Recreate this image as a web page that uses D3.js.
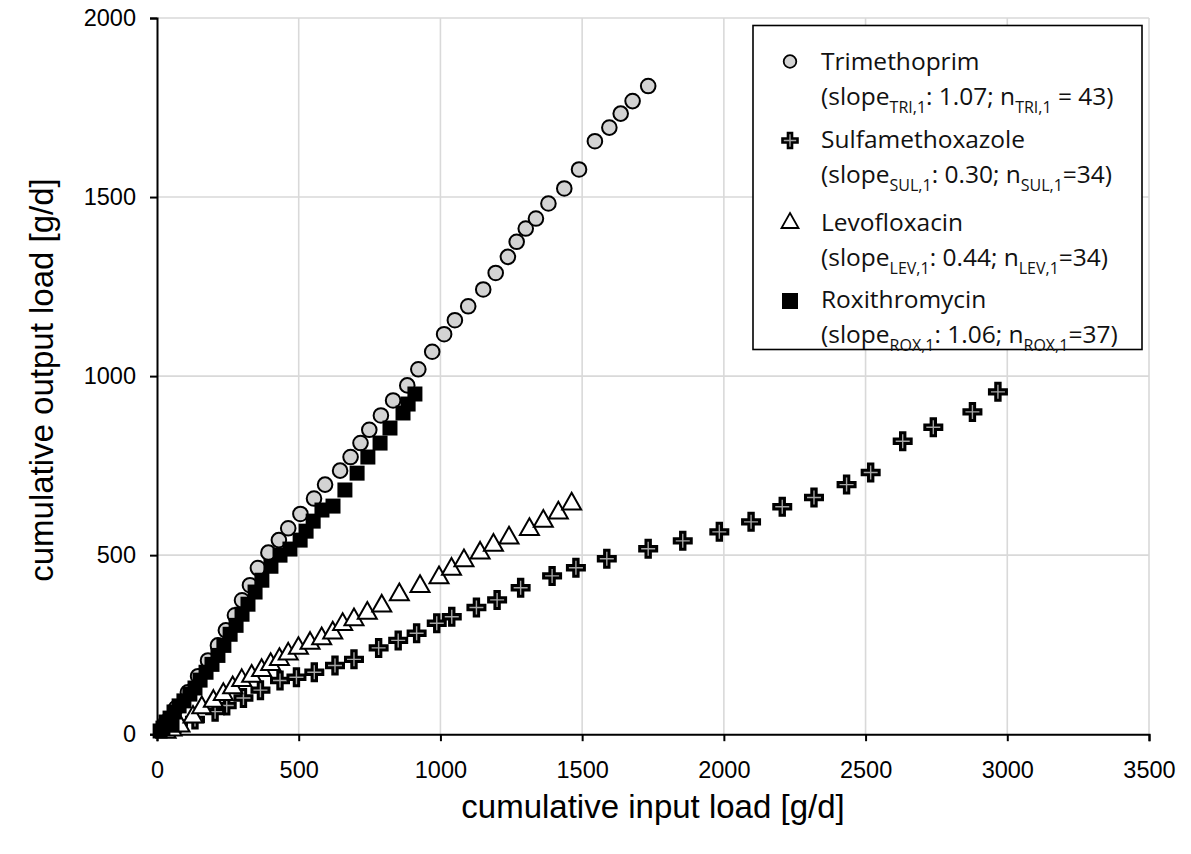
<!DOCTYPE html>
<html>
<head>
<meta charset="utf-8">
<script src="https://cdn.jsdelivr.net/npm/d3@7"></script>
<style>
  html, body { margin: 0; padding: 0; background: #fff; }
  svg { display: block; }
</style>
</head>
<body>
<svg id="chart" width="1191" height="854"></svg>
<script>
// Cumulative input vs. output loads [g/d] per compound
const trimethoprimX = [32, 67, 109, 145, 180, 215, 243, 275, 300, 328, 356, 393, 430, 463, 506, 554, 593, 646, 683, 718, 749, 790, 833, 883, 922, 971, 1013, 1051, 1098, 1151, 1195, 1238, 1269, 1301, 1337, 1381, 1437, 1489, 1545, 1596, 1636, 1678, 1733];
const trimethoprimY = [34, 73, 117, 162, 206, 248, 290, 332, 374, 416, 464, 507, 542, 575, 615, 658, 697, 736, 774, 813, 850, 890, 932, 974, 1019, 1068, 1117, 1156, 1195, 1242, 1288, 1333, 1375, 1412, 1440, 1482, 1524, 1577, 1656, 1694, 1733, 1768, 1810];

const sulfamethoxazoleX = [74, 134, 205, 246, 305, 365, 434, 492, 555, 628, 695, 782, 851, 916, 987, 1040, 1127, 1200, 1283, 1394, 1478, 1587, 1733, 1855, 1984, 2096, 2206, 2318, 2433, 2518, 2631, 2739, 2877, 2967];
const sulfamethoxazoleY = [31, 41, 63, 80, 101, 123, 150, 159, 173, 192, 209, 241, 262, 282, 310, 328, 354, 375, 409, 442, 465, 490, 518, 540, 565, 593, 635, 661, 697, 731, 818, 857, 900, 956];

const levofloxacinX = [32, 53, 81, 127, 158, 199, 234, 267, 299, 334, 369, 401, 432, 463, 499, 540, 581, 620, 655, 695, 742, 793, 855, 928, 995, 1039, 1083, 1140, 1187, 1242, 1314, 1363, 1416, 1463];
const levofloxacinY = [9, 15, 26, 51, 77, 95, 114, 133, 153, 165, 181, 198, 212, 227, 243, 257, 270, 286, 310, 323, 341, 361, 393, 416, 440, 464, 488, 509, 531, 551, 575, 598, 621, 646];

const roxithromycinX = [11, 21, 32, 46, 53, 60, 78, 95, 116, 134, 152, 173, 194, 215, 236, 258, 279, 300, 321, 346, 370, 402, 434, 469, 505, 526, 551, 582, 621, 663, 706, 744, 787, 822, 868, 886, 910];
const roxithromycinY = [9, 17, 34, 45, 26, 62, 79, 93, 112, 129, 151, 173, 195, 220, 248, 279, 304, 335, 363, 397, 430, 469, 500, 517, 542, 567, 595, 626, 637, 682, 729, 774, 813, 855, 897, 922, 950];

const xTicks = [0, 500, 1000, 1500, 2000, 2500, 3000, 3500];
const yTicks = [0, 500, 1000, 1500, 2000];

const legendEntries = [
  { name: "Trimethoprim", tag: "TRI,1", slope: "1.07", n: " = 43)" },
  { name: "Sulfamethoxazole", tag: "SUL,1", slope: "0.30", n: "=34)" },
  { name: "Levofloxacin", tag: "LEV,1", slope: "0.44", n: "=34)" },
  { name: "Roxithromycin", tag: "ROX,1", slope: "1.06", n: "=37)" }
];

const svg = d3.select("#chart");
const x = d3.scaleLinear().domain([0, 3500]).range([157, 1149]);
const y = d3.scaleLinear().domain([0, 2000]).range([734.2, 18]);

const tickFont = "'Liberation Sans', Arial, sans-serif";
const legendFont = "'Open Sans', 'Noto Sans', sans-serif";

// grid
const grid = svg.append("g");
grid.selectAll("line.vx").data(xTicks.slice(1)).join("line")
  .attr("x1", d => x(d)).attr("x2", d => x(d))
  .attr("y1", y(0)).attr("y2", y(2000))
  .attr("stroke", "#d9d9d9").attr("stroke-width", 1.6);
grid.selectAll("line.hy").data(yTicks.slice(1)).join("line")
  .attr("x1", x(0)).attr("x2", x(3500))
  .attr("y1", d => y(d)).attr("y2", d => y(d))
  .attr("stroke", "#d9d9d9").attr("stroke-width", 1.6);

// axes
const xAxis = svg.append("g").attr("transform", `translate(0,${y(0)})`)
  .call(d3.axisBottom(x).tickValues(xTicks).tickSize(7).tickPadding(20).tickFormat(d3.format("d")));
const yAxis = svg.append("g").attr("transform", `translate(${x(0)},0)`)
  .call(d3.axisLeft(y).tickValues(yTicks).tickSize(7).tickPadding(14).tickFormat(d3.format("d")));
[xAxis, yAxis].forEach(a => {
  a.select(".domain").attr("stroke", "#000").attr("stroke-width", 2);
  a.selectAll(".tick line").attr("stroke", "#000").attr("stroke-width", 2);
  a.selectAll(".tick text").attr("font-family", tickFont).attr("font-size", 23.5).attr("fill", "#000");
});

svg.append("text")
  .attr("x", 653).attr("y", 818)
  .attr("text-anchor", "middle")
  .attr("font-family", tickFont).attr("font-size", 33)
  .text("cumulative input load [g/d]");
svg.append("text")
  .attr("transform", "translate(53,380) rotate(-90)")
  .attr("text-anchor", "middle")
  .attr("font-family", tickFont).attr("font-size", 33)
  .text("cumulative output load [g/d]");

// marker shapes
function crossSymbol(half, arm) {
  return {
    draw(ctx) {
      ctx.moveTo(-arm, -half);
      ctx.lineTo(arm, -half);
      ctx.lineTo(arm, -arm);
      ctx.lineTo(half, -arm);
      ctx.lineTo(half, arm);
      ctx.lineTo(arm, arm);
      ctx.lineTo(arm, half);
      ctx.lineTo(-arm, half);
      ctx.lineTo(-arm, arm);
      ctx.lineTo(-half, arm);
      ctx.lineTo(-half, -arm);
      ctx.lineTo(-arm, -arm);
      ctx.closePath();
    }
  };
}
function triSymbol(w) {
  const h = w * 0.88;
  return {
    draw(ctx) {
      ctx.moveTo(0, -h * 0.6);
      ctx.lineTo(w / 2, h * 0.4);
      ctx.lineTo(-w / 2, h * 0.4);
      ctx.closePath();
    }
  };
}

const styles = {
  tri: { path: d3.symbol(d3.symbolCircle, Math.PI * 7.3 * 7.3)(), fill: "#d3d3d3", stroke: "#000", sw: 2 },
  sul: { path: d3.symbol(crossSymbol(8.5, 2.2))(), fill: "#a6a6a6", stroke: "#000", sw: 3 },
  lev: { path: d3.symbol(triSymbol(19))(), fill: "#fff", stroke: "#000", sw: 2 },
  rox: { path: d3.symbol(d3.symbolSquare, 15 * 15)(), fill: "#000", stroke: "#000", sw: 0 }
};

const series = [
  { xs: trimethoprimX, ys: trimethoprimY, st: styles.tri },
  { xs: sulfamethoxazoleX, ys: sulfamethoxazoleY, st: styles.sul },
  { xs: levofloxacinX, ys: levofloxacinY, st: styles.lev },
  { xs: roxithromycinX, ys: roxithromycinY, st: styles.rox }
];

series.forEach(s => {
  svg.append("g").selectAll("path").data(d3.range(s.xs.length)).join("path")
    .attr("transform", i => `translate(${x(s.xs[i])},${y(s.ys[i])})`)
    .attr("d", s.st.path)
    .attr("fill", s.st.fill)
    .attr("stroke", s.st.stroke)
    .attr("stroke-width", s.st.sw)
    .attr("stroke-linejoin", "miter");
});

// legend
const lg = svg.append("g");
lg.append("rect")
  .attr("x", 753).attr("y", 25.5).attr("width", 389).attr("height", 324)
  .attr("fill", "#fff").attr("stroke", "#000").attr("stroke-width", 1.6);

const legendStyles = [
  { path: d3.symbol(d3.symbolCircle, Math.PI * 6.3 * 6.3)(), fill: "#d3d3d3", stroke: "#000", sw: 1.8 },
  { path: d3.symbol(crossSymbol(7.5, 2))(), fill: "#a6a6a6", stroke: "#000", sw: 2.6 },
  { path: d3.symbol(triSymbol(17))(), fill: "#fff", stroke: "#000", sw: 1.8 },
  { path: d3.symbol(d3.symbolSquare, 16 * 16)(), fill: "#000", stroke: "#000", sw: 0 }
];
const entryBase = [69.5, 147.5, 230.5, 308];
const markerY = [61.5, 140.5, 222, 301];

legendEntries.forEach((e, i) => {
  const ls = legendStyles[i];
  lg.append("path")
    .attr("transform", `translate(790,${markerY[i]})`)
    .attr("d", ls.path).attr("fill", ls.fill)
    .attr("stroke", ls.stroke).attr("stroke-width", ls.sw);
  lg.append("text")
    .attr("x", 821).attr("y", entryBase[i])
    .attr("font-family", legendFont).attr("font-size", 24.5).attr("fill", "#111")
    .text(e.name);
  const t = lg.append("text")
    .attr("x", 821).attr("y", entryBase[i] + 35)
    .attr("font-family", legendFont).attr("font-size", 24.5).attr("fill", "#111");
  t.append("tspan").text("(slope");
  t.append("tspan").attr("font-size", 16).attr("dy", 8).text(e.tag);
  t.append("tspan").attr("dy", -8).text(": " + e.slope + "; n");
  t.append("tspan").attr("font-size", 16).attr("dy", 8).text(e.tag);
  t.append("tspan").attr("dy", -8).text(e.n);
});
</script>
</body>
</html>
